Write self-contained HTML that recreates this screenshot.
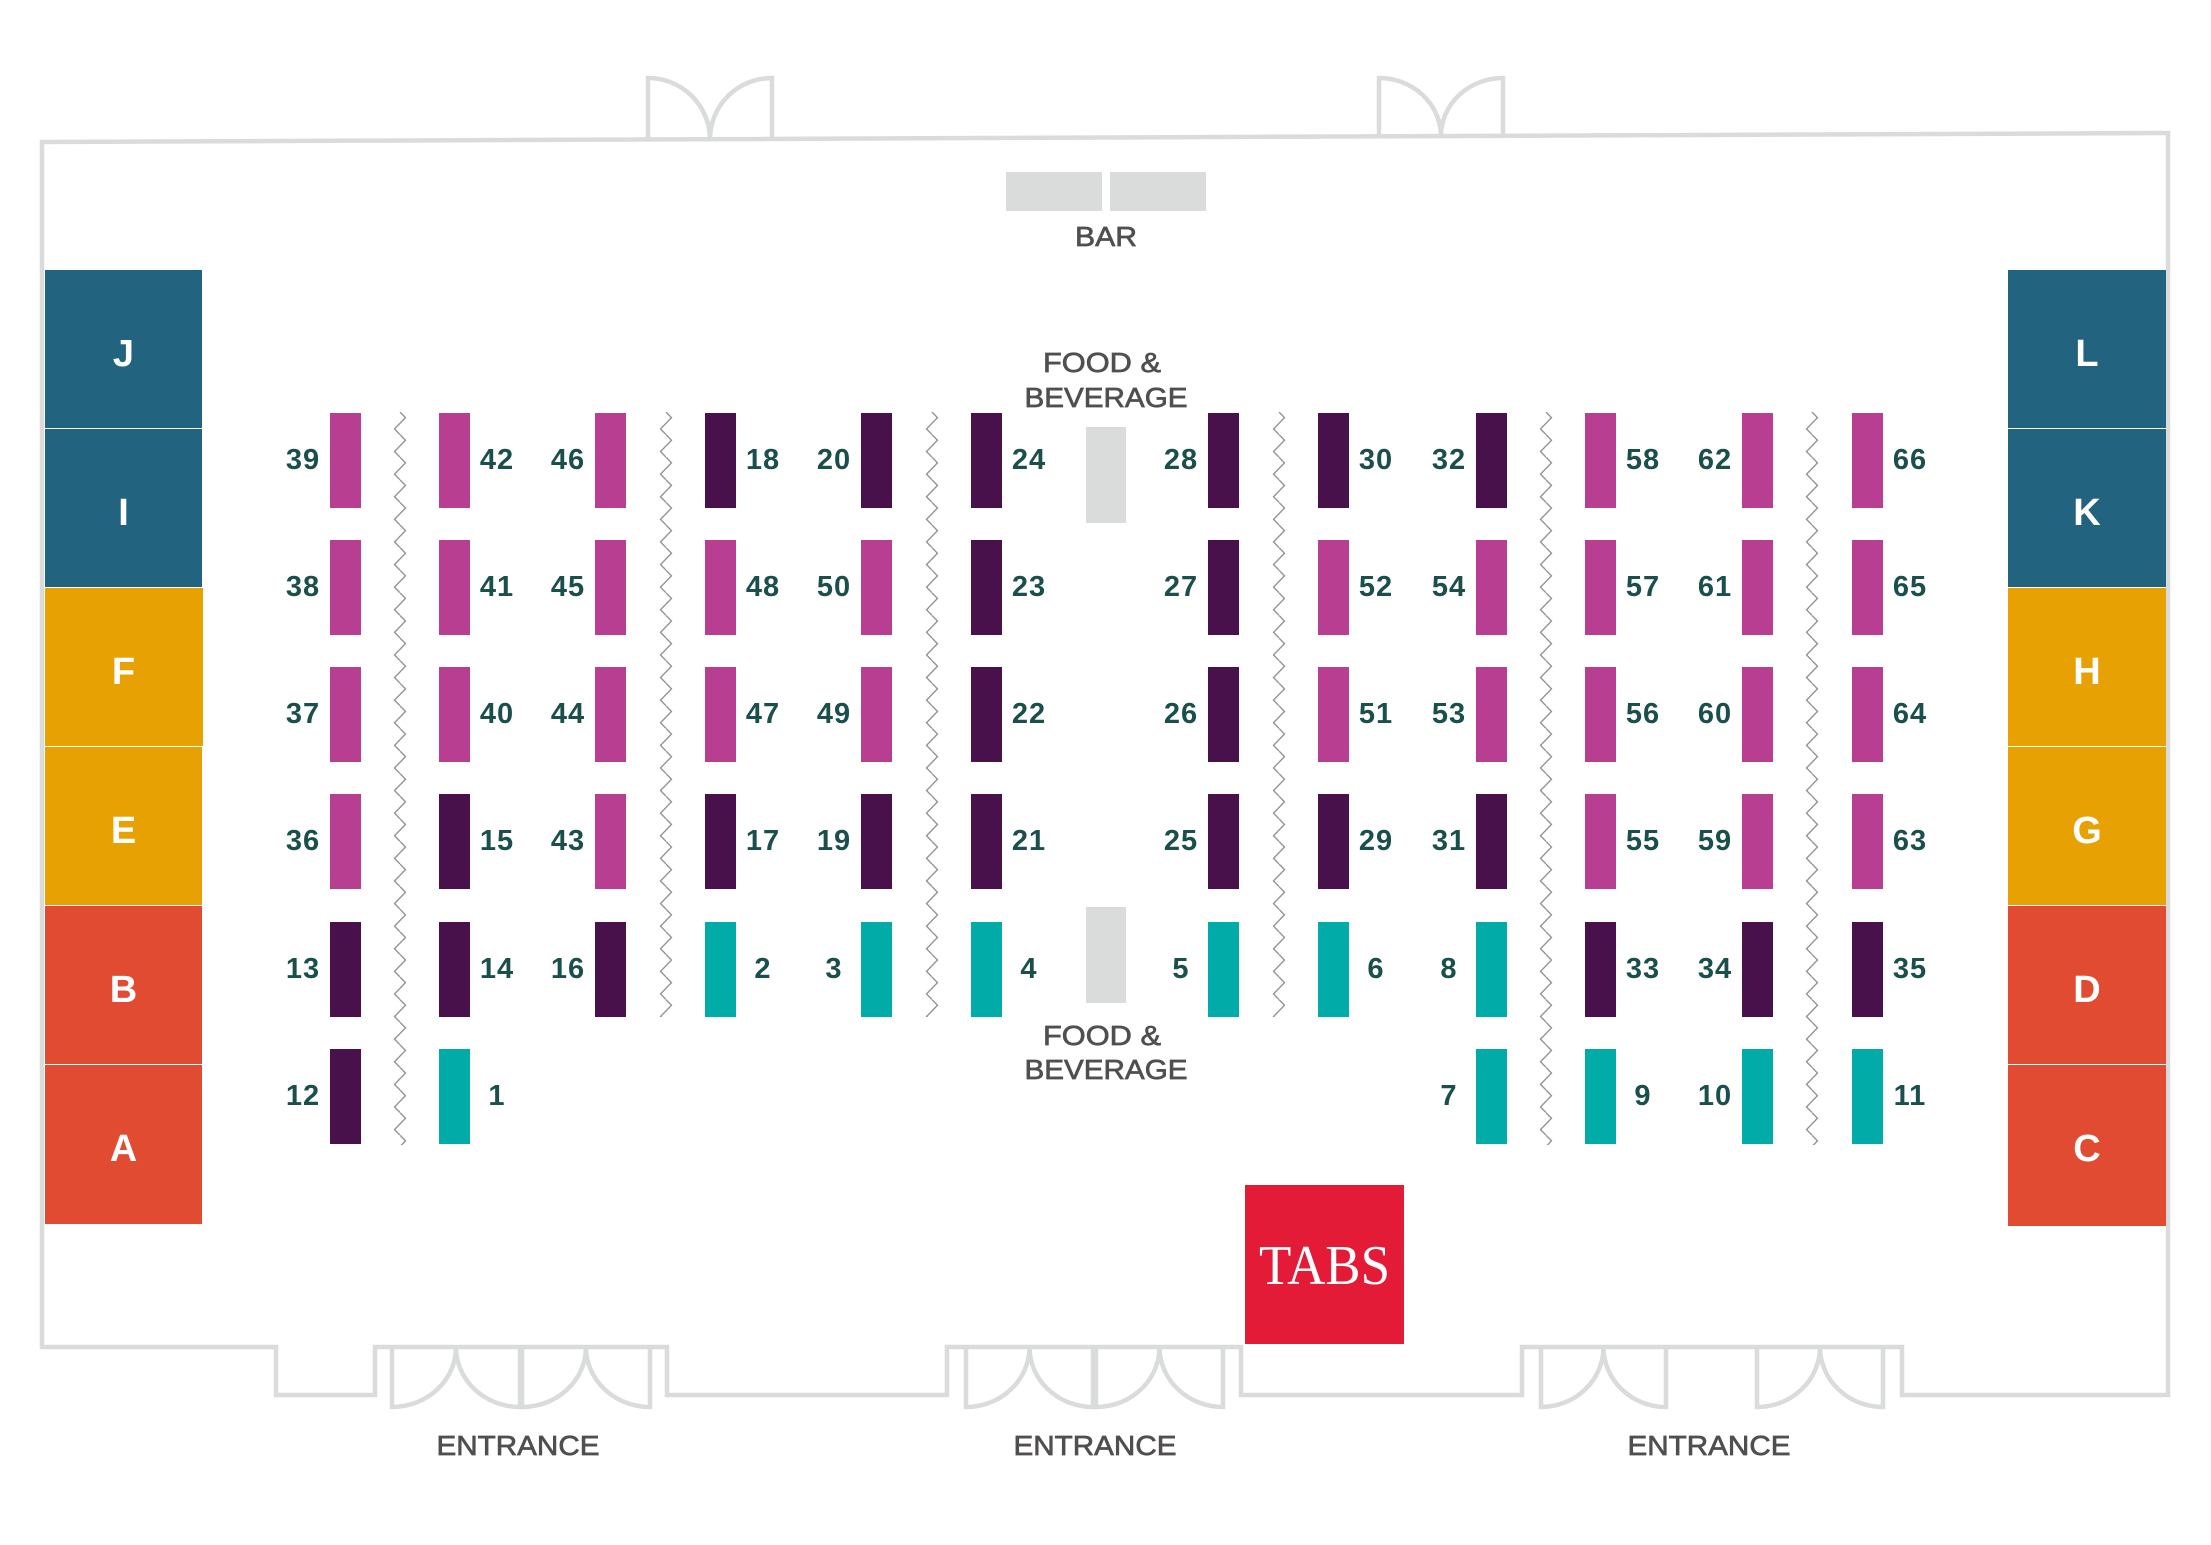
<!DOCTYPE html>
<html>
<head>
<meta charset="utf-8">
<style>
html,body{margin:0;padding:0;background:#fff;}
svg{display:block;}
.p{fill:#b83e92;}
.d{fill:#48114b;}
.t{fill:#01aba7;}
.w{fill:none;stroke:#d9dcdb;stroke-width:4.5;stroke-linejoin:miter;}
.n{font-family:"Liberation Sans",Arial,sans-serif;font-weight:bold;font-size:29px;fill:#1a4f4b;text-anchor:middle;letter-spacing:1px;}
.g{font-family:"Liberation Sans",Arial,sans-serif;font-size:28px;fill:#514e4e;stroke:#514e4e;stroke-width:0.7;text-anchor:middle;}
.pl{font-family:"Liberation Sans",Arial,sans-serif;font-weight:bold;font-size:38px;fill:#fff;text-anchor:middle;}
</style>
</head>
<body>
<svg width="2211" height="1545" viewBox="0 0 2211 1545" xmlns="http://www.w3.org/2000/svg">
<defs>
<pattern id="zz" patternUnits="userSpaceOnUse" x="0" y="0" width="14" height="22.6">
<path d="M7,0 L12.5,5.65 L1.5,16.95 L7,22.6" fill="none" stroke="#8e8e8e" stroke-width="1.3"/>
</pattern>
</defs>
<rect width="2211" height="1545" fill="#fff"/>

<!-- Walls -->
<path class="w" d="M42,142 L2168,133 L2168,1395 L1902,1395 L1902,1347 L1522,1347 L1522,1395 L1241,1395 L1241,1347 L947,1347 L947,1395 L667,1395 L667,1347 L375,1347 L375,1395 L276,1395 L276,1347 L42,1347 Z"/>

<!-- Top doors -->
<path class="w" d="M648,139.5 L648,78 A62,61.5 0 0 1 710,139.5 M772,139 L772,78 A62,61 0 0 0 710,139"/>
<path class="w" d="M1379,136.5 L1379,78 A62,58.5 0 0 1 1441,136.5 M1503,136 L1503,78 A62,58 0 0 0 1441,136"/>

<!-- Bottom doors: entrance 1 -->
<path class="w" d="M392,1347 L392,1407 A64,60 0 0 0 456,1347 M520,1347 L520,1407 A64,60 0 0 1 456,1347"/>
<path class="w" d="M522,1347 L522,1407 A64,60 0 0 0 586,1347 M650,1347 L650,1407 A64,60 0 0 1 586,1347"/>
<!-- entrance 2 -->
<path class="w" d="M966,1347 L966,1407 A63.5,60 0 0 0 1029.5,1347 M1093,1347 L1093,1407 A63.5,60 0 0 1 1029.5,1347"/>
<path class="w" d="M1096,1347 L1096,1407 A63.5,60 0 0 0 1159.5,1347 M1223,1347 L1223,1407 A63.5,60 0 0 1 1159.5,1347"/>
<!-- entrance 3 -->
<path class="w" d="M1541,1347 L1541,1407 A62.5,60 0 0 0 1603.5,1347 M1666,1347 L1666,1407 A62.5,60 0 0 1 1603.5,1347"/>
<path class="w" d="M1757,1347 L1757,1407 A63,60 0 0 0 1820,1347 M1883,1347 L1883,1407 A63,60 0 0 1 1820,1347"/>

<text class="g" x="518" y="1455" textLength="163" lengthAdjust="spacingAndGlyphs">ENTRANCE</text>
<text class="g" x="1095" y="1455" textLength="163" lengthAdjust="spacingAndGlyphs">ENTRANCE</text>
<text class="g" x="1709" y="1455" textLength="163" lengthAdjust="spacingAndGlyphs">ENTRANCE</text>

<!-- Bar -->
<rect x="1006" y="172" width="96" height="39" fill="#d9dcdb"/>
<rect x="1110" y="172" width="96" height="39" fill="#d9dcdb"/>
<text class="g" x="1106" y="246" textLength="62" lengthAdjust="spacingAndGlyphs">BAR</text>

<!-- Food & beverage -->
<text class="g" x="1102" y="372" textLength="118" lengthAdjust="spacingAndGlyphs">FOOD &amp;</text>
<text class="g" x="1106" y="407" textLength="163" lengthAdjust="spacingAndGlyphs">BEVERAGE</text>
<rect x="1086" y="427" width="40" height="96" fill="#d9dcdb"/>
<rect x="1086" y="907" width="40" height="96" fill="#d9dcdb"/>
<text class="g" x="1102" y="1045" textLength="118" lengthAdjust="spacingAndGlyphs">FOOD &amp;</text>
<text class="g" x="1106" y="1079" textLength="163" lengthAdjust="spacingAndGlyphs">BEVERAGE</text>

<!-- TABS -->
<rect x="1245" y="1185" width="159" height="159" fill="#e31b37"/>
<text x="1324.5" y="1284" font-family="'Liberation Serif','Times New Roman',serif" font-size="56" fill="#fff" text-anchor="middle" textLength="131" lengthAdjust="spacingAndGlyphs">TABS</text>

<!-- Side panels left -->
<rect x="45" y="270" width="157" height="158" fill="#22637f"/>
<rect x="45" y="429" width="157" height="158" fill="#22637f"/>
<rect x="45" y="588" width="158" height="158" fill="#e8a102"/>
<rect x="45" y="747" width="157" height="158" fill="#e8a102"/>
<rect x="45" y="906" width="157" height="158" fill="#e14b31"/>
<rect x="45" y="1065" width="157" height="159" fill="#e14b31"/>
<text class="pl" x="123.5" y="366">J</text>
<text class="pl" x="123.5" y="525">I</text>
<text class="pl" x="123.5" y="684">F</text>
<text class="pl" x="123.5" y="843">E</text>
<text class="pl" x="123.5" y="1002">B</text>
<text class="pl" x="123.5" y="1161">A</text>

<!-- Side panels right -->
<rect x="2008" y="270" width="158" height="158" fill="#22637f"/>
<rect x="2008" y="429" width="158" height="158" fill="#22637f"/>
<rect x="2008" y="588" width="158" height="158" fill="#e8a102"/>
<rect x="2008" y="747" width="158" height="158" fill="#e8a102"/>
<rect x="2008" y="906" width="158" height="158" fill="#e14b31"/>
<rect x="2008" y="1065" width="158" height="161" fill="#e14b31"/>
<text class="pl" x="2087" y="366">L</text>
<text class="pl" x="2087" y="525">K</text>
<text class="pl" x="2087" y="684">H</text>
<text class="pl" x="2087" y="843">G</text>
<text class="pl" x="2087" y="1002">D</text>
<text class="pl" x="2087" y="1161">C</text>

<!-- Zigzag dividers -->
<g transform="translate(393,412)"><rect width="14" height="733" fill="url(#zz)"/></g>
<g transform="translate(659,412)"><rect width="14" height="605" fill="url(#zz)"/></g>
<g transform="translate(925,412)"><rect width="14" height="605" fill="url(#zz)"/></g>
<g transform="translate(1272,412)"><rect width="14" height="605" fill="url(#zz)"/></g>
<g transform="translate(1539,412)"><rect width="14" height="733" fill="url(#zz)"/></g>
<g transform="translate(1805,412)"><rect width="14" height="733" fill="url(#zz)"/></g>

<!-- col1 x=330 -->
<rect class="p" x="330" y="413" width="31" height="95"/><text class="n" x="303" y="469">39</text>
<rect class="p" x="330" y="540" width="31" height="95"/><text class="n" x="303" y="596">38</text>
<rect class="p" x="330" y="667" width="31" height="95"/><text class="n" x="303" y="723">37</text>
<rect class="p" x="330" y="794" width="31" height="95"/><text class="n" x="303" y="850">36</text>
<rect class="d" x="330" y="922" width="31" height="95"/><text class="n" x="303" y="978">13</text>
<rect class="d" x="330" y="1049" width="31" height="95"/><text class="n" x="303" y="1105">12</text>

<!-- col2 x=439 -->
<rect class="p" x="439" y="413" width="31" height="95"/><text class="n" x="497" y="469">42</text>
<rect class="p" x="439" y="540" width="31" height="95"/><text class="n" x="497" y="596">41</text>
<rect class="p" x="439" y="667" width="31" height="95"/><text class="n" x="497" y="723">40</text>
<rect class="d" x="439" y="794" width="31" height="95"/><text class="n" x="497" y="850">15</text>
<rect class="d" x="439" y="922" width="31" height="95"/><text class="n" x="497" y="978">14</text>
<rect class="t" x="439" y="1049" width="31" height="95"/><text class="n" x="497" y="1105">1</text>

<!-- col3 x=595 -->
<rect class="p" x="595" y="413" width="31" height="95"/><text class="n" x="568" y="469">46</text>
<rect class="p" x="595" y="540" width="31" height="95"/><text class="n" x="568" y="596">45</text>
<rect class="p" x="595" y="667" width="31" height="95"/><text class="n" x="568" y="723">44</text>
<rect class="p" x="595" y="794" width="31" height="95"/><text class="n" x="568" y="850">43</text>
<rect class="d" x="595" y="922" width="31" height="95"/><text class="n" x="568" y="978">16</text>

<!-- col4 x=705 -->
<rect class="d" x="705" y="413" width="31" height="95"/><text class="n" x="763" y="469">18</text>
<rect class="p" x="705" y="540" width="31" height="95"/><text class="n" x="763" y="596">48</text>
<rect class="p" x="705" y="667" width="31" height="95"/><text class="n" x="763" y="723">47</text>
<rect class="d" x="705" y="794" width="31" height="95"/><text class="n" x="763" y="850">17</text>
<rect class="t" x="705" y="922" width="31" height="95"/><text class="n" x="763" y="978">2</text>

<!-- col5 x=861 -->
<rect class="d" x="861" y="413" width="31" height="95"/><text class="n" x="834" y="469">20</text>
<rect class="p" x="861" y="540" width="31" height="95"/><text class="n" x="834" y="596">50</text>
<rect class="p" x="861" y="667" width="31" height="95"/><text class="n" x="834" y="723">49</text>
<rect class="d" x="861" y="794" width="31" height="95"/><text class="n" x="834" y="850">19</text>
<rect class="t" x="861" y="922" width="31" height="95"/><text class="n" x="834" y="978">3</text>

<!-- col6 x=971 -->
<rect class="d" x="971" y="413" width="31" height="95"/><text class="n" x="1029" y="469">24</text>
<rect class="d" x="971" y="540" width="31" height="95"/><text class="n" x="1029" y="596">23</text>
<rect class="d" x="971" y="667" width="31" height="95"/><text class="n" x="1029" y="723">22</text>
<rect class="d" x="971" y="794" width="31" height="95"/><text class="n" x="1029" y="850">21</text>
<rect class="t" x="971" y="922" width="31" height="95"/><text class="n" x="1029" y="978">4</text>

<!-- col7 x=1208 -->
<rect class="d" x="1208" y="413" width="31" height="95"/><text class="n" x="1181" y="469">28</text>
<rect class="d" x="1208" y="540" width="31" height="95"/><text class="n" x="1181" y="596">27</text>
<rect class="d" x="1208" y="667" width="31" height="95"/><text class="n" x="1181" y="723">26</text>
<rect class="d" x="1208" y="794" width="31" height="95"/><text class="n" x="1181" y="850">25</text>
<rect class="t" x="1208" y="922" width="31" height="95"/><text class="n" x="1181" y="978">5</text>

<!-- col8 x=1318 -->
<rect class="d" x="1318" y="413" width="31" height="95"/><text class="n" x="1376" y="469">30</text>
<rect class="p" x="1318" y="540" width="31" height="95"/><text class="n" x="1376" y="596">52</text>
<rect class="p" x="1318" y="667" width="31" height="95"/><text class="n" x="1376" y="723">51</text>
<rect class="d" x="1318" y="794" width="31" height="95"/><text class="n" x="1376" y="850">29</text>
<rect class="t" x="1318" y="922" width="31" height="95"/><text class="n" x="1376" y="978">6</text>

<!-- col9 x=1476 -->
<rect class="d" x="1476" y="413" width="31" height="95"/><text class="n" x="1449" y="469">32</text>
<rect class="p" x="1476" y="540" width="31" height="95"/><text class="n" x="1449" y="596">54</text>
<rect class="p" x="1476" y="667" width="31" height="95"/><text class="n" x="1449" y="723">53</text>
<rect class="d" x="1476" y="794" width="31" height="95"/><text class="n" x="1449" y="850">31</text>
<rect class="t" x="1476" y="922" width="31" height="95"/><text class="n" x="1449" y="978">8</text>
<rect class="t" x="1476" y="1049" width="31" height="95"/><text class="n" x="1449" y="1105">7</text>

<!-- col10 x=1585 -->
<rect class="p" x="1585" y="413" width="31" height="95"/><text class="n" x="1643" y="469">58</text>
<rect class="p" x="1585" y="540" width="31" height="95"/><text class="n" x="1643" y="596">57</text>
<rect class="p" x="1585" y="667" width="31" height="95"/><text class="n" x="1643" y="723">56</text>
<rect class="p" x="1585" y="794" width="31" height="95"/><text class="n" x="1643" y="850">55</text>
<rect class="d" x="1585" y="922" width="31" height="95"/><text class="n" x="1643" y="978">33</text>
<rect class="t" x="1585" y="1049" width="31" height="95"/><text class="n" x="1643" y="1105">9</text>

<!-- col11 x=1742 -->
<rect class="p" x="1742" y="413" width="31" height="95"/><text class="n" x="1715" y="469">62</text>
<rect class="p" x="1742" y="540" width="31" height="95"/><text class="n" x="1715" y="596">61</text>
<rect class="p" x="1742" y="667" width="31" height="95"/><text class="n" x="1715" y="723">60</text>
<rect class="p" x="1742" y="794" width="31" height="95"/><text class="n" x="1715" y="850">59</text>
<rect class="d" x="1742" y="922" width="31" height="95"/><text class="n" x="1715" y="978">34</text>
<rect class="t" x="1742" y="1049" width="31" height="95"/><text class="n" x="1715" y="1105">10</text>

<!-- col12 x=1852 -->
<rect class="p" x="1852" y="413" width="31" height="95"/><text class="n" x="1910" y="469">66</text>
<rect class="p" x="1852" y="540" width="31" height="95"/><text class="n" x="1910" y="596">65</text>
<rect class="p" x="1852" y="667" width="31" height="95"/><text class="n" x="1910" y="723">64</text>
<rect class="p" x="1852" y="794" width="31" height="95"/><text class="n" x="1910" y="850">63</text>
<rect class="d" x="1852" y="922" width="31" height="95"/><text class="n" x="1910" y="978">35</text>
<rect class="t" x="1852" y="1049" width="31" height="95"/><text class="n" x="1910" y="1105">11</text>
</svg>
</body>
</html>
